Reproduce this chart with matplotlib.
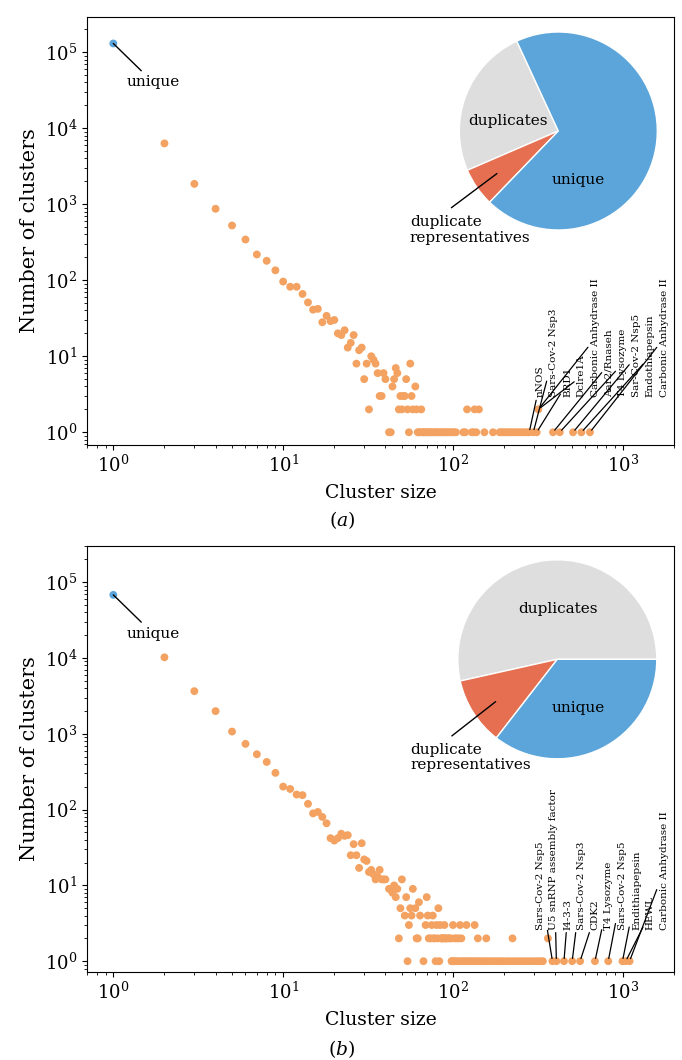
import matplotlib
matplotlib.use('Agg')
import matplotlib.pyplot as plt

plt.rcParams['font.family'] = ['DejaVu Serif']
plt.rcParams['mathtext.fontset'] = 'dejavuserif'

# ---------------- data: panel (a) ----------------
a_unique_size = [1]
a_unique_count = [130000]
a_sizes = [2, 3, 4, 5, 6, 7, 8, 9, 10, 11, 12, 13, 14, 15, 16, 17, 18, 19, 20,
           21, 22, 23, 24, 25, 26, 27, 28, 29, 30, 31, 32, 33, 34, 35, 36, 37, 38,
           39, 40, 42, 43, 44, 45, 46, 47, 48, 49, 50, 51, 52, 53, 54, 55, 56, 57,
           58, 60, 61, 62, 63, 64, 65, 66, 67, 68, 70, 71, 72, 74, 75, 77, 79, 80,
           82, 84, 86, 88, 90, 92, 94, 96, 99, 101, 104, 115, 118, 121, 129, 132,
           134, 137, 142, 153, 172, 188, 193, 198, 204, 210, 216, 222, 229, 236,
           243, 251, 259, 267, 275, 281, 297, 311, 318, 388, 425, 509, 570, 640]
a_counts = [6300, 1850, 870, 525, 343, 218, 180, 135, 96, 82, 82, 66, 51, 41, 42,
            28, 34, 29, 30, 20, 19, 22, 13, 15, 19, 8, 12, 13, 5, 8, 2, 10, 9, 8,
            6, 3, 3, 6, 5, 1, 1, 4, 5, 7, 6, 2, 3, 2, 3, 3, 5, 2, 1, 8, 3,
            2, 4, 2, 1, 1, 1, 2, 1, 1, 1, 1, 1, 1, 1, 1, 1, 1, 1,
            1, 1, 1, 1, 1, 1, 1, 1, 1, 1, 1, 1, 1, 2, 1, 1,
            2, 1, 2, 1, 1, 1, 1, 1, 1, 1, 1, 1, 1, 1,
            1, 1, 1, 1, 1, 1, 1, 1, 2, 1, 1, 1, 1, 1]
a_labels = ['nNOS', 'Sars-Cov-2 Nsp3', 'BRD1', 'Dclre1A', 'Carbonic Anhydrase II',
            'Aar2/Rnaseh', 'T4 Lysozyme', 'Sar-Cov-2 Nsp5', 'Endothiapepsin',
            'Carbonic Anhydrase II']
a_label_sizes = [281, 297, 311, 318, 318, 388, 425, 509, 570, 640]
a_label_counts = [1, 1, 1, 2, 2, 1, 1, 1, 1, 1]
a_pie_labels = ['duplicates', 'duplicate representatives', 'unique']
a_pie_values = [24.6, 6.3, 69.1]

# ---------------- data: panel (b) ----------------
b_unique_size = [1]
b_unique_count = [68000]
b_sizes = [2, 3, 4, 5, 6, 7, 8, 9, 10, 11, 12, 13, 14, 15, 16, 17, 18, 19, 20,
           21, 22, 23, 24, 25, 26, 27, 28, 29, 30, 31, 32, 33, 34, 35, 36, 37, 38,
           39, 40, 42, 44, 45, 46, 47, 48, 49, 50, 52, 53, 54, 55, 56, 57, 58, 60,
           61, 62, 63, 64, 67, 69, 70, 71, 72, 74, 75, 76, 77, 78, 79, 80, 81, 82,
           83, 84, 85, 86, 87, 88, 89, 90, 91, 93, 95, 97, 98, 99, 100, 101, 102,
           104, 105, 107, 108, 110, 111, 112, 115, 118, 120, 122, 126, 130, 134,
           135, 139, 140, 144, 149, 155, 157, 161, 168, 175, 182, 190, 198, 207,
           216, 224, 226, 236, 247, 258, 270, 283, 296, 310, 324, 338, 362, 385,
           406, 450, 503, 560, 685, 820, 995, 1040, 1095]
b_counts = [10200, 3650, 1990, 1070, 736, 537, 425, 305, 201, 187, 158, 155, 119,
            89, 93, 80, 66, 42, 39, 42, 48, 45, 46, 25, 35, 25, 17, 36, 22, 21, 15,
            16, 14, 12, 13, 16, 12, 12, 12, 9, 8, 10, 7, 9, 2, 5, 12, 4, 7, 1, 3,
            5, 4, 9, 5, 2, 2, 6, 4, 1, 3, 7, 4, 2, 2, 3, 4, 2, 2, 1, 3, 2, 5,
            1, 3, 2, 2, 2, 2, 3, 2, 2, 2, 2, 2, 1, 1, 3, 1, 2,
            1, 2, 1, 2, 3, 1, 2, 1, 1, 3, 1, 1, 1, 3,
            1, 1, 2, 1, 1, 1, 2, 1, 1, 1, 1, 1, 1, 1,
            1, 2, 1, 1, 1, 1, 1, 1, 1, 1, 1, 1, 2, 1,
            1, 1, 1, 1, 1, 1, 1, 1, 1]
b_labels = ['Sars-Cov-2 Nsp5', 'U5 snRNP assembly factor', 'I4-3-3', 'Sars-Cov-2 Nsp3',
            'CDK2', 'T4 Lysozyme', 'Sars-Cov-2 Nsp5', 'Endithiapepsin', 'HEWL',
            'Carbonic Anhydrase II']
b_label_sizes = [385, 406, 450, 503, 560, 685, 820, 995, 1040, 1095]
b_label_counts = [1, 1, 1, 1, 1, 1, 1, 1, 1, 1]
b_pie_labels = ['duplicates', 'duplicate representatives', 'unique']
b_pie_values = [53.5, 11.0, 35.5]

# ---------------- style ----------------
ORANGE = '#F3A261'
BLUE = '#5CA5DA'
GREY = '#DEDEDE'
RED = '#E56F50'
TICK_FS = 13
XLABEL_FS = 13.5
YLABEL_FS = 15
PIE_FS = 11
ANN_FS = 7.5

fig = plt.figure(figsize=(6.82, 10.6), dpi=100)
W, H = 682.0, 1060.0


def make_panel(ax_rect, pie_rect, ylim, sizes, counts, usize, ucount, labels,
               lsizes, lcounts, label_y, pie_values, pie_start):
    ax = fig.add_axes(ax_rect)
    ax.scatter(sizes, counts, s=32, color=ORANGE, edgecolors='none', zorder=3)
    ax.scatter(usize, ucount, s=32, color=BLUE, edgecolors='none', zorder=3)
    ax.set_xscale('log')
    ax.set_yscale('log')
    ax.set_xlim(0.70, 2000)
    ax.set_ylim(*ylim)
    ax.tick_params(labelsize=TICK_FS)
    ax.set_xlabel('Cluster size', fontsize=XLABEL_FS, labelpad=6)
    ax.set_ylabel('Number of clusters', fontsize=YLABEL_FS, labelpad=4)
    ax.annotate('unique', xy=(usize[0], ucount[0]), xytext=(40, -39),
                textcoords='offset pixels', ha='center', va='center',
                fontsize=PIE_FS,
                arrowprops=dict(arrowstyle='-', color='black', lw=1.0,
                                shrinkA=2, shrinkB=0))
    n = len(labels)
    for i in range(n):
        fx = 0.772 + i * (0.983 - 0.772) / (n - 1)
        ax.annotate(labels[i], xy=(lsizes[i], lcounts[i]), xycoords='data',
                    xytext=(fx, label_y), textcoords='axes fraction',
                    rotation=90, ha='center', va='bottom', fontsize=ANN_FS,
                    arrowprops=dict(arrowstyle='-', color='black', lw=0.9,
                                    shrinkA=0, shrinkB=2))
    # pie inset
    pax = fig.add_axes(pie_rect)
    pax.pie(pie_values, colors=[GREY, RED, BLUE], startangle=pie_start,
            counterclock=True,
            wedgeprops=dict(edgecolor='white', linewidth=1.0))
    pax.set_xlim(-1, 1)
    pax.set_ylim(-1, 1)
    pax.set_aspect('equal')
    return ax, pax


# panel (a)
ax1, pax1 = make_panel([87 / W, 1 - 445 / H, 587 / W, 428 / H],
                       [459.3 / W, 1 - 230 / H, 198 / W, 198 / H],
                       (0.68, 2.9e5), a_sizes, a_counts, a_unique_size, a_unique_count,
                       a_labels, a_label_sizes, a_label_counts, 0.111,
                       a_pie_values, 114.8)
pax1.text(-0.51, 0.10, 'duplicates', ha='center', va='center', fontsize=PIE_FS)
pax1.text(0.20, -0.49, 'unique', ha='center', va='center', fontsize=PIE_FS)
pax1.text(-1.50, -1.0, 'duplicate\nrepresentatives', ha='left', va='center',
          fontsize=PIE_FS, clip_on=False, linespacing=1.1)
pax1.annotate('', xy=(-0.62, -0.43), xytext=(-1.08, -0.775),
              arrowprops=dict(arrowstyle='-', color='black', lw=1.0,
                              shrinkA=0, shrinkB=0), annotation_clip=False)
fig.text(342 / W, 1 - 520 / H, '($a$)', ha='center', va='center', fontsize=XLABEL_FS)

# panel (b)
ax2, pax2 = make_panel([87 / W, 1 - 972 / H, 587 / W, 426 / H],
                       [457.8 / W, 1 - 758.8 / H, 199 / W, 199 / H],
                       (0.72, 3.0e5), b_sizes, b_counts, b_unique_size, b_unique_count,
                       b_labels, b_label_sizes, b_label_counts, 0.099,
                       b_pie_values, 0.0)
pax2.text(0.01, 0.505, 'duplicates', ha='center', va='center', fontsize=PIE_FS)
pax2.text(0.21, -0.49, 'unique', ha='center', va='center', fontsize=PIE_FS)
pax2.text(-1.48, -0.99, 'duplicate\nrepresentatives', ha='left', va='center',
          fontsize=PIE_FS, clip_on=False, linespacing=1.1)
pax2.annotate('', xy=(-0.62, -0.426), xytext=(-1.06, -0.77),
              arrowprops=dict(arrowstyle='-', color='black', lw=1.0,
                              shrinkA=0, shrinkB=0), annotation_clip=False)
fig.text(342 / W, 1 - 1049 / H, '($b$)', ha='center', va='center', fontsize=XLABEL_FS)

fig.savefig('out.png', dpi=100)
